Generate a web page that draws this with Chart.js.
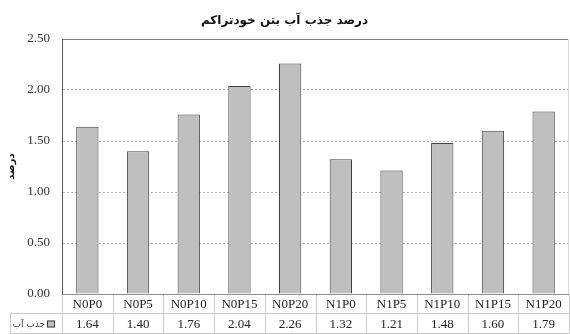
<!DOCTYPE html>
<html>
<head>
<meta charset="utf-8">
<script src="https://cdn.jsdelivr.net/npm/chart.js@4.4.1/dist/chart.umd.min.js"></script>
<style>
  body { margin: 0; background: #fff; }
  canvas { display: block; }
</style>
</head>
<body>
<canvas id="absorptionChart" width="570" height="334"></canvas>
<script>
// mix codes and water absorption (%)
const mixes = ['N0P0', 'N0P5', 'N0P10', 'N0P15', 'N0P20', 'N1P0', 'N1P5', 'N1P10', 'N1P15', 'N1P20'];
const absorption = [1.64, 1.40, 1.76, 2.04, 2.26, 1.32, 1.21, 1.48, 1.60, 1.79];
const seriesName = 'جذب آب';
const yTicks = [0, 0.5, 1, 1.5, 2, 2.5];

const serif = '"Liberation Serif", "Times New Roman", serif';
const arabic = '"DejaVu Sans", sans-serif';

// data table under the plot (category row + value row with legend key)
const dataTable = {
    id: 'dataTable',
    afterDraw(chart) {
        const ctx = chart.ctx;
        const area = chart.chartArea;
        const x = chart.scales.x;
        const colW = (area.right - area.left) / mixes.length;
        const top = area.bottom;
        const mid = top + 19.5;
        const bottom = 333.5;
        const legendLeft = 10.5;

        ctx.save();
        ctx.lineWidth = 1;

        // horizontal rules
        ctx.strokeStyle = '#c8c8c8';
        ctx.beginPath();
        ctx.moveTo(legendLeft, mid); ctx.lineTo(area.right, mid);
        ctx.moveTo(legendLeft, bottom); ctx.lineTo(area.right, bottom);
        ctx.stroke();

        // column separators
        ctx.beginPath();
        for (let i = 0; i <= mixes.length; i++) {
            const px = Math.round(area.left + i * colW) + 0.5;
            ctx.moveTo(px, top); ctx.lineTo(px, bottom);
        }
        ctx.moveTo(legendLeft, mid); ctx.lineTo(legendLeft, bottom);
        ctx.stroke();

        // zero line / table top
        ctx.strokeStyle = '#8c8c8c';
        ctx.beginPath();
        ctx.moveTo(area.left, Math.round(top) + 0.5); ctx.lineTo(area.right, Math.round(top) + 0.5);
        ctx.stroke();

        // text
        ctx.fillStyle = '#222';
        ctx.textAlign = 'center';
        ctx.textBaseline = 'middle';
        ctx.font = '13px ' + serif;
        mixes.forEach((m, i) => {
            const cx = x.getPixelForValue(i);
            ctx.fillText(m, cx, top + 11);
            ctx.fillText(absorption[i].toFixed(2), cx, mid + 11);
        });

        // legend key
        ctx.fillStyle = '#bfbfbf';
        ctx.fillRect(47, mid + 7, 8, 7);
        ctx.strokeStyle = '#404040';
        ctx.strokeRect(47.5, mid + 7.5, 7, 6);
        ctx.fillStyle = '#333';
        ctx.textAlign = 'right';
        ctx.font = '9px ' + arabic;
        ctx.fillText(seriesName, 45, mid + 11);

        // plot frame (right side is lighter)
        ctx.strokeStyle = '#d9d9d9';
        ctx.beginPath();
        ctx.moveTo(area.right - 0.5, area.top); ctx.lineTo(area.right - 0.5, area.bottom);
        ctx.stroke();
        ctx.restore();
    }
};

new Chart(document.getElementById('absorptionChart'), {
    type: 'bar',
    data: {
        labels: mixes,
        datasets: [{
            label: seriesName,
            data: absorption,
            backgroundColor: '#bfbfbf',
            borderColor: '#404040',
            borderWidth: 1,
            barPercentage: 0.44,
            categoryPercentage: 1
        }]
    },
    options: {
        responsive: false,
        devicePixelRatio: 1,
        animation: false,
        layout: { padding: { left: 0, right: 1, top: 0, bottom: 40 } },
        plugins: {
            legend: { display: false },
            tooltip: { enabled: false },
            title: {
                display: true,
                text: 'درصد جذب آب بتن خودتراکم',
                color: '#111',
                font: { family: arabic, size: 12, weight: 'bold' },
                padding: { top: 14, bottom: 10.6 }
            }
        },
        scales: {
            x: {
                display: false
            },
            y: {
                min: 0,
                max: 2.5,
                afterFit(scale) { scale.width = 62; },
                afterBuildTicks(scale) { scale.ticks = yTicks.map(v => ({ value: v })); },
                ticks: {
                    padding: 12,
                    color: '#333',
                    font: { family: serif, size: 13 },
                    callback: v => Number(v).toFixed(2)
                },
                grid: {
                    drawTicks: false,
                    color: ctx => ctx.tick && ctx.tick.value === 2.5 ? '#808080' : (ctx.tick && ctx.tick.value === 0 ? 'rgba(0,0,0,0)' : '#b4b4b4')
                },
                border: {
                    display: true,
                    color: '#595959',
                    dash: ctx => ctx.tick && ctx.tick.value === 2.5 ? [] : [2, 2]
                },
                title: {
                    display: true,
                    text: 'درصد',
                    color: '#111',
                    font: { family: arabic, size: 10, weight: 'bold' },
                    padding: { top: 5, bottom: 0 }
                }
            }
        }
    },
    plugins: [dataTable]
});
</script>
</body>
</html>
